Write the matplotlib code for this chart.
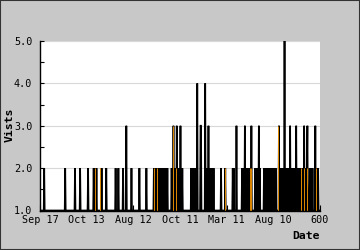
import numpy as np
import matplotlib
matplotlib.use("Agg")
import matplotlib.pyplot as plt
from matplotlib.patches import Rectangle

# Daily visits, one character per day (index 0..600)
visits_000 = ("1111111112" "1111111111" "1111111111" "1111111111" "1111111111"
              "1111211111" "1111111111" "1111121111" "1111112111" "1111111111")
visits_100 = ("1112111111" "1111121211" "1211111111" "1121111111" "1121111111"
              "1111111111" "1121111121" "1111111121" "1111131111" "1111112111")
visits_200 = ("1111111111" "1112111111" "1111111121" "1111111111" "1111212121"
              "2121212121" "2121212121" "2112111111" "1121113121" "2113121212")
visits_300 = ("1312121111" "1111111111" "1111212121" "2121211411" "1111331111"
              "1111411212" "1312112121" "2121111111" "1111111121" "1111111211")
visits_400 = ("1111111111" "1112121111" "1311111111" "1112121213" "1212121212"
              "1213111111" "1212121213" "1211111111" "2121212121" "2121211212")
visits_500 = ("1212121111" "1131111212" "1211512121" "1212113121" "2121112113"
              "1212121111" "2121213121" "2123111121" "2121211111" "3121212111" "1")
visit_segments = [visits_000, visits_100, visits_200, visits_300, visits_400, visits_500]

# Second (orange) series: days where it rises above 1
orange_idx = [118, 129, 244, 251, 286, 291, 397, 450, 452, 511, 560, 566, 572, 592]
orange_val = [2, 2, 2, 2, 3, 2, 2, 2, 2, 3, 2, 2, 2, 2]

tick_pos = [0, 100, 200, 300, 400, 500, 600]
tick_labels = ["Sep 17", "Oct 13", "Aug 12", "Oct 11", "Mar 11", "Aug 10", "600"]
y_ticks = [1.0, 2.0, 3.0, 4.0, 5.0]

visits = np.array([int(c) for seg in visit_segments for c in seg], dtype=float)
days = np.arange(len(visits))

mono = "DejaVu Sans Mono"
fig = plt.figure(figsize=(3.6, 2.5), dpi=100, facecolor="#c8c8c8")
ax = fig.add_axes([40/360, 1-210.5/250, 280/360, (210.5-41)/250])
ax.set_facecolor("white")

ax.plot(days, visits, color="black", lw=1.25, solid_joinstyle="miter", zorder=3)
ax.vlines(orange_idx, 1, orange_val, color="#e08a00", lw=0.7, zorder=4)

ax.set_xlim(0, 600)
ax.set_ylim(1, 5)
ax.set_yticks(y_ticks)
ax.set_yticklabels([f"{v:.1f}" for v in y_ticks])
ax.set_yticks([1.5, 2.5, 3.5, 4.5], minor=True)
ax.set_xticks(tick_pos)
ax.set_xticklabels(tick_labels)
ax.grid(axis="y", color="#d8d8d8", lw=0.8, zorder=0)
ax.set_axisbelow(True)

for s in ["top", "right"]:
    ax.spines[s].set_visible(False)
for s in ["left", "bottom"]:
    ax.spines[s].set_color("black")
    ax.spines[s].set_linewidth(1.0)
    ax.spines[s].set_zorder(5)

ax.tick_params(axis="y", which="both", direction="in", length=3, width=0.8,
               pad=5.5, labelsize=7.3, colors="black")
ax.tick_params(axis="x", which="both", direction="in", length=4, width=0.8,
               pad=3.5, labelsize=7.3, colors="black")
for lab in ax.get_xticklabels() + ax.get_yticklabels():
    lab.set_fontfamily(mono)

fig.text(10/360, 1-125/250, "Vists", rotation=90, ha="center", va="center",
         fontsize=8.2, fontweight="bold", family=mono)
fig.text(320/360, 1-236/250, "Date", ha="right", va="center",
         fontsize=8.2, fontweight="bold", family=mono)

fig.patches.append(Rectangle((0, 0), 1, 1, transform=fig.transFigure, fill=False,
                             edgecolor="#333333", lw=1.5))

fig.savefig("out.png", dpi=100, facecolor=fig.get_facecolor())
